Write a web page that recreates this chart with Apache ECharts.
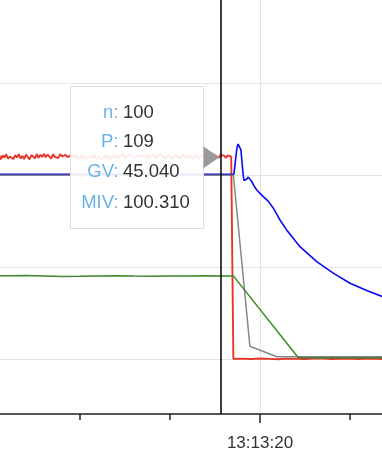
<!DOCTYPE html>
<html><head><meta charset="utf-8">
<script src="https://cdn.jsdelivr.net/npm/echarts@6/dist/echarts.min.js"></script>
<style>html,body{margin:0;padding:0;background:#fff;}#c{width:382px;height:470px;}</style>
</head><body><div id="c"></div>
<script>
// Times are seconds since midnight (13:13:20 = 47600)
const xTickLabelTimes = [47580, 47600, 47620];
const cursorTime = 47597.83;

// P (red): sampled every 0.1 s from pStart
const pStart = 47585.4, pStep = 0.1;
const pNoise = [
108.7,110.9,108.5,110.6,109.4,111.2,108.8,110.0,111.0,108.6,110.7,109.5,111.3,108.9,110.3,108.6,111.1,109.7,108.5,110.8,
110.2,109.0,111.3,109.3,110.9,109.8,111.4,109.6,111.0,110.3,108.9,111.2,109.8,110.7,109.1,111.3,110.1,109.2,110.9,109.7,
108.8,110.6,109.5,111.1,108.6,110.3,109.0,110.9,108.5,109.9,110.8,108.9,110.4,109.3,111.0,108.7,109.9,110.6,108.4,109.7,
110.9,109.0,110.3,108.6,111.1,109.5,110.7,108.9,110.4,109.6,111.0,108.8,110.2,109.2,111.2,109.8,110.5,109.0,110.9,109.5,
108.6,110.8,109.6,111.1,108.9,110.4,109.4,111.0,108.8,110.2,109.2,111.3,109.8,110.6,109.0,110.9,109.6,110.4,108.9,111.1,
109.8,110.8,109.2,111.2,110.1,109.0,110.9,109.6,110.6,108.9,111.1,109.8,110.4,109.2,111.0,110.0,109.4,110.8,109.7,110.9,
109.6,110.7,110.1,109.3,110.8,109.8,110.5,109.2,110.6,109.7,109.9
];
const pTailT = [47598.50,47598.52,47599.0,47599.5,47600.0,47600.5,47601.0,47601.5,47602.0,47602.5,47603.0,47603.5,47604.0,47604.5,47605.0,47605.5,47606.0,47606.5,47607.0,47607.5,47608.0];
const pTailV = [109.6,0.0,0.1,-0.1,0.2,0.0,-0.2,0.1,0.0,-0.1,0.2,0.1,-0.1,0.0,0.2,-0.1,0.1,0.0,-0.2,0.1,0.0];

// GV (green)
const gvT = [47580,47585,47586,47587,47588,47589,47590,47591,47592,47593,47594,47595,47596,47597,47598,47598.52,47602.13,47620];
const gvV = [45.1,45.0,45.2,45.3,45.1,44.8,44.9,45.1,45.2,45.0,44.9,45.0,45.1,45.2,45.1,45.1,0.55,0.55];

// n (gray)
const nT = [47580,47598.52,47599.44,47600.93,47620];
const nV = [100,100,6.8,1.1,1.0];

// MIV (blue)
const mT = [47580,47598.55,47598.64,47598.72,47598.78,47598.83,47598.89,47598.94,47599.00,47599.06,47599.11,47599.18,47599.25,47599.35,47599.44,47599.54,47599.67,47599.82,47600.18,47600.47,47600.74,47601.11,47601.48,47602.22,47603.15,47604.07,47605.00,47605.93,47606.78,47608.00];
const mV = [100.3,100.3,108.2,114.7,116.8,117.6,116.8,113.6,107.1,100.5,97.0,96.5,97.6,98.8,97.8,96.4,94.0,91.8,88.2,85.6,81.9,75.5,70.1,61.0,52.9,46.6,41.1,37.1,33.9,30.5];

// tooltip content
const tipLabels = ['n:', 'P:', 'GV:', 'MIV:'];
const tipValues = ['100', '109', '45.040', '100.310'];

function zip(t, v) { return t.map((x, i) => [x, v[i]]); }
const pData = pNoise.map((v, i) => [pStart + i * pStep, v]).concat(zip(pTailT, pTailV));

function fmt(s) {
  const h = Math.floor(s / 3600), m = Math.floor((s % 3600) / 60), sec = Math.round(s % 60);
  const p = n => (n < 10 ? '0' : '') + n;
  return h + ':' + p(m) + ':' + p(sec);
}

const FONT = '"Liberation Sans", Arial, sans-serif';
const rowY = [113, 142, 172, 202.5];
const graphics = [
  { type: 'rect', z: 100, shape: { x: 70.5, y: 86.5, width: 133, height: 142 },
    style: { fill: 'rgba(255,255,255,0.9)', stroke: '#dcdcdc', lineWidth: 1 } },
  { type: 'polygon', z: 100, shape: { points: [[203.5, 146.5], [219.5, 157.3], [203.5, 168.3]] },
    style: { fill: '#999999' } }
];
tipLabels.forEach((l, i) => {
  graphics.push({ type: 'text', z: 101, x: 118.5, y: rowY[i],
    style: { text: l, fill: '#6cb2e4', fontSize: 18.5, fontFamily: FONT, align: 'right', verticalAlign: 'middle' } });
  graphics.push({ type: 'text', z: 101, x: 123, y: rowY[i],
    style: { text: tipValues[i], fill: '#333333', fontSize: 18.5, fontFamily: FONT, align: 'left', verticalAlign: 'middle' } });
});

const chart = echarts.init(document.getElementById('c'), null, { renderer: 'canvas' });
chart.setOption({
  animation: false,
  backgroundColor: '#ffffff',
  grid: { left: -100, right: -238, top: -9, bottom: 56, containLabel: false, outerBoundsMode: 'none' },
  xAxis: {
    type: 'value', min: xTickLabelTimes[0], max: xTickLabelTimes[2], interval: 20,
    axisLine: { show: true, onZero: false, lineStyle: { color: '#222', width: 1.5 } },
    axisTick: { show: true, length: 9, lineStyle: { color: '#222', width: 1.5 } },
    minorTick: { show: true, splitNumber: 4, length: 6, lineStyle: { color: '#222', width: 1.5 } },
    splitLine: { show: true, lineStyle: { color: '#e4e4e4', width: 1 } },
    axisLabel: { formatter: fmt, fontSize: 17, color: '#333', fontFamily: FONT, margin: 21 }
  },
  yAxis: {
    type: 'value', min: -30, max: 200, splitNumber: 5,
    axisLine: { show: false }, axisTick: { show: false }, axisLabel: { show: false },
    splitLine: { show: true, lineStyle: { color: '#e4e4e4', width: 1 } }
  },
  series: [
    { name: 'P', type: 'line', data: pData, showSymbol: false, lineStyle: { color: '#e8352a', width: 1.9 } },
    { name: 'GV', type: 'line', data: zip(gvT, gvV), showSymbol: false, lineStyle: { color: '#3a8a2a', width: 1.5 } },
    { name: 'MIV', type: 'line', data: zip(mT, mV), showSymbol: false, lineStyle: { color: '#0a0af0', width: 1.6 },
      markLine: { silent: true, symbol: ['none', 'none'], label: { show: false },
        lineStyle: { color: '#000', width: 1.5, type: 'solid' }, data: [{ xAxis: cursorTime }] } },
    { name: 'n', type: 'line', data: zip(nT, nV), showSymbol: false, lineStyle: { color: '#666666', width: 1.5, opacity: 0.78 } }
  ],
  graphic: graphics
});
</script></body></html>
